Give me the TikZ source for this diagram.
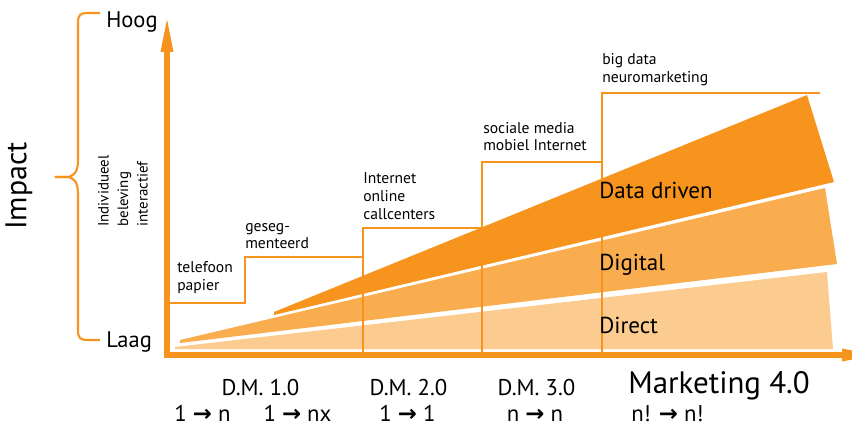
\documentclass[tikz,border=0pt]{standalone}
\usepackage{fontspec}
\setmainfont{PT Sans}
\newfontfamily\pijlfont{DejaVu Sans}
\usepackage{tikz}
\usetikzlibrary{arrows.meta}
\definecolor{oranje}{HTML}{F7941D}
\definecolor{oranjemid}{HTML}{F9AD4E}
\definecolor{oranjelicht}{HTML}{FCCB8F}
\newcommand\pijl{{\pijlfont\bfseries\char"2192}}

\begin{document}
\begin{tikzpicture}[
  lijn/.style={oranje, line width=1.4pt},
  as/.style={oranje, line width=3.9pt, line join=miter,
    {Triangle[length=0.925cm,width=0.28cm]}-{Triangle[length=0.925cm,width=0.28cm]}},
  klein/.style={anchor=west, align=left, inner sep=0pt, font=\fontsize{11.1}{12.6}\selectfont},
  groot/.style={anchor=west, inner sep=0pt, font=\fontsize{16.4}{19}\selectfont},
  onder/.style={anchor=base, inner sep=0pt, font=\fontsize{16.2}{19}\selectfont}]
\useasboundingbox (-4.175cm,-1.8cm) rectangle (17.125cm,8.875cm);
\clip (-4.175cm,-1.8cm) rectangle (17.125cm,8.875cm);
% wiggen
\fill[oranjelicht] (0.2cm,0.15cm) -- (0.2cm,0.2cm) -- (16.5cm,2.075cm) -- (16.65cm,0.15cm) -- cycle;
\fill[oranjemid] (0.325cm,0.3cm) -- (0.325cm,0.375cm) -- (16.45cm,4.175cm) -- (16.75cm,2.275cm) -- cycle;
\fill[oranje] (2.675cm,1.0cm) -- (2.675cm,1.075cm) -- (16.0cm,6.5cm) -- (16.675cm,4.325cm) -- cycle;
% trap
\draw[lijn] (0cm,1.3cm) -- (1.95cm,1.3cm) -- (1.95cm,2.45cm) -- (4.9cm,2.45cm) -- (4.9cm,3.175cm)
  -- (7.875cm,3.175cm) -- (7.875cm,4.825cm) -- (10.875cm,4.825cm) -- (10.875cm,6.55cm) -- (16.325cm,6.55cm);
\draw[lijn] (4.9cm,0cm) -- (4.9cm,2.45cm);
\draw[lijn] (7.875cm,0cm) -- (7.875cm,3.175cm);
\draw[lijn] (10.875cm,0cm) -- (10.875cm,4.825cm);
% assen
\draw[as] (17.8cm,0cm) -- (0cm,0cm) -- (0cm,8.5cm);
% accolade
\draw[lijn, line width=1.5pt] (-1.675cm,8.55cm) -- (-1.975cm,8.55cm) .. controls (-2.175cm,8.55cm) and (-2.225cm,8.5cm) .. (-2.225cm,8.3cm)
  -- (-2.225cm,4.875cm) .. controls (-2.225cm,4.575cm) and (-2.325cm,4.45cm) .. (-2.525cm,4.45cm) -- (-2.8cm,4.45cm);
\draw[lijn, line width=1.5pt] (-2.8cm,4.45cm) -- (-2.525cm,4.45cm) .. controls (-2.325cm,4.45cm) and (-2.225cm,4.325cm) .. (-2.225cm,4.025cm)
  -- (-2.225cm,0.625cm) .. controls (-2.225cm,0.425cm) and (-2.175cm,0.375cm) .. (-1.975cm,0.375cm) -- (-1.675cm,0.375cm);
% teksten
\draw (-3.7cm,4.225cm) node[rotate=90, font=\fontsize{21.3}{24}\selectfont] (impact) {Impact};
\draw (-1.1cm,4.1cm) node[rotate=90, align=left, inner sep=0pt, font=\fontsize{10.6}{13.9}\selectfont] (kenmerken) {Individueel\\beleving\\interactief};
\draw (-1.525cm,8.175cm) node[anchor=base west, inner sep=0pt, font=\fontsize{16}{19}\selectfont] (hoog) {Hoog};
\draw (-1.525cm,0.2cm) node[anchor=base west, inner sep=0pt, font=\fontsize{16}{19}\selectfont] (laag) {Laag};
\draw (0.25cm,1.9375cm) node[klein] (telefoon) {telefoon\\papier};
\draw (1.95cm,2.975cm) node[klein] (gesegmenteerd) {geseg-\\menteerd};
\draw (4.9cm,3.975cm) node[klein] (internet) {Internet\\online\\callcenters};
\draw (7.9cm,5.4625cm) node[klein] (sociaal) {sociale media\\mobiel Internet};
\draw (10.875cm,7.1375cm) node[klein] (bigdata) {big data\\neuromarketing};
\draw (10.8cm,4.125cm) node[groot] (datadriven) {Data driven};
\draw (10.8cm,2.25cm) node[groot] (digital) {Digital};
\draw (10.8cm,0.75cm) node[groot] (direct) {Direct};
\draw (2.3375cm,-1.0cm) node[onder] (dm1) {D.M. 1.0};
\draw (6.0375cm,-1.0cm) node[onder] (dm2) {D.M. 2.0};
\draw (9.2375cm,-1.0cm) node[onder] (dm3) {D.M. 3.0};
\draw (13.8cm,-0.95cm) node[anchor=base, inner sep=0pt, font=\fontsize{22}{26}\selectfont] (m4) {Marketing 4.0};
\draw (0.8875cm,-1.66cm) node[onder] (r1) {1 \pijl{} n};
\draw (3.2625cm,-1.66cm) node[onder] (r2) {1 \pijl{} nx};
\draw (6.0125cm,-1.66cm) node[onder] (r3) {1 \pijl{} 1};
\draw (9.2cm,-1.66cm) node[onder] (r4) {n \pijl{} n};
\draw (12.5125cm,-1.66cm) node[onder] (r5) {n! \pijl{} n!};
\end{tikzpicture}
\end{document}
